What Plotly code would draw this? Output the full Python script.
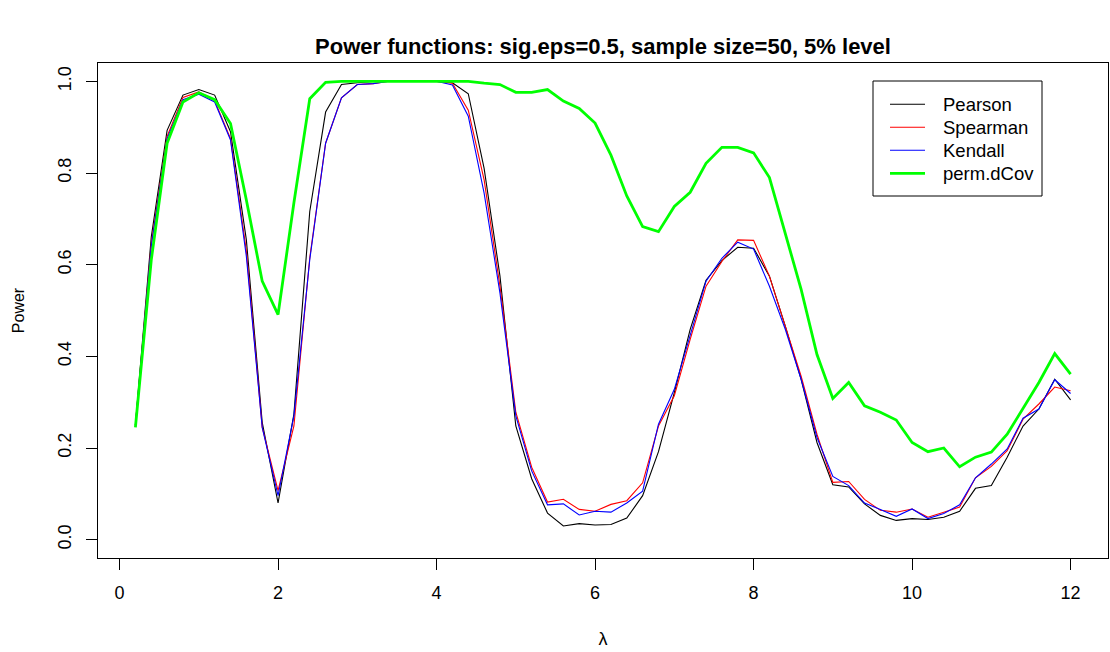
import plotly.graph_objects as go

lam = [0.2, 0.4, 0.6, 0.8, 1.0, 1.2, 1.4, 1.6, 1.8, 2.0,
       2.2, 2.4, 2.6, 2.8, 3.0, 3.2, 3.4, 3.6, 3.8, 4.0,
       4.2, 4.4, 4.6, 4.8, 5.0, 5.2, 5.4, 5.6, 5.8, 6.0,
       6.2, 6.4, 6.6, 6.8, 7.0, 7.2, 7.4, 7.6, 7.8, 8.0,
       8.2, 8.4, 8.6, 8.8, 9.0, 9.2, 9.4, 9.6, 9.8, 10.0,
       10.2, 10.4, 10.6, 10.8, 11.0, 11.2, 11.4, 11.6, 11.8, 12.0]

pearson = [0.250, 0.660, 0.893, 0.970, 0.982, 0.970, 0.890, 0.654, 0.256, 0.080,
           0.274, 0.716, 0.933, 0.993, 0.997, 1.000, 1.000, 1.000, 1.000, 1.000,
           0.997, 0.973, 0.810, 0.575, 0.248, 0.133, 0.058, 0.030, 0.035, 0.032,
           0.033, 0.047, 0.096, 0.192, 0.321, 0.459, 0.566, 0.609, 0.638, 0.636,
           0.575, 0.466, 0.350, 0.212, 0.120, 0.115, 0.078, 0.053, 0.042, 0.046,
           0.044, 0.049, 0.062, 0.112, 0.118, 0.180, 0.248, 0.285, 0.350, 0.305]

spearman = [0.250, 0.645, 0.880, 0.965, 0.977, 0.958, 0.875, 0.630, 0.245, 0.107,
            0.248, 0.615, 0.865, 0.964, 0.993, 0.995, 1.000, 1.000, 1.000, 1.000,
            0.996, 0.937, 0.785, 0.553, 0.278, 0.158, 0.082, 0.088, 0.066, 0.062,
            0.077, 0.085, 0.124, 0.248, 0.314, 0.437, 0.553, 0.607, 0.654, 0.653,
            0.575, 0.466, 0.357, 0.230, 0.125, 0.127, 0.088, 0.064, 0.060, 0.067,
            0.049, 0.060, 0.071, 0.135, 0.160, 0.194, 0.263, 0.296, 0.333, 0.325]

kendall = [0.250, 0.640, 0.875, 0.960, 0.972, 0.955, 0.872, 0.618, 0.245, 0.096,
           0.270, 0.611, 0.865, 0.964, 0.993, 0.995, 1.000, 1.000, 1.000, 1.000,
           0.992, 0.924, 0.756, 0.538, 0.270, 0.150, 0.076, 0.078, 0.054, 0.062,
           0.060, 0.080, 0.106, 0.252, 0.328, 0.444, 0.564, 0.614, 0.649, 0.634,
           0.553, 0.459, 0.350, 0.223, 0.138, 0.118, 0.080, 0.066, 0.051, 0.067,
           0.046, 0.057, 0.076, 0.135, 0.165, 0.198, 0.265, 0.285, 0.349, 0.319]

dcov = [0.245, 0.610, 0.865, 0.955, 0.975, 0.960, 0.908, 0.741, 0.564, 0.491,
        0.735, 0.962, 0.998, 1.000, 1.000, 1.000, 1.000, 1.000, 1.000, 1.000,
        1.000, 1.000, 0.996, 0.993, 0.976, 0.976, 0.982, 0.957, 0.941, 0.909,
        0.839, 0.750, 0.683, 0.672, 0.727, 0.758, 0.821, 0.856, 0.856, 0.844,
        0.790, 0.669, 0.546, 0.404, 0.308, 0.343, 0.292, 0.278, 0.261, 0.212,
        0.192, 0.200, 0.159, 0.180, 0.191, 0.230, 0.285, 0.343, 0.406, 0.361]

series_names = ["Pearson", "Spearman", "Kendall", "perm.dCov"]
series_vals = [pearson, spearman, kendall, dcov]
series_colors = ["#000000", "#FF0000", "#0000FF", "#00FF00"]
series_widths = [1.1, 1.1, 1.1, 2.8]

x_ticks = [0, 2, 4, 6, 8, 10, 12]
y_ticks = [0.0, 0.2, 0.4, 0.6, 0.8, 1.0]
y_tick_text = ["0.0", "0.2", "0.4", "0.6", "0.8", "1.0"]

FONT = "Liberation Sans, Arial, Helvetica, sans-serif"
W, H = 1110, 652
ML, MR, MT, MB = 98, 2, 63, 94
PW, PH = W - ML - MR, H - MT - MB


def px_x(p):
    return (p - ML) / PW


def px_y(p):
    return (H - MB - p) / PH


fig = go.Figure()
for name, vals, col, w in zip(series_names, series_vals, series_colors, series_widths):
    fig.add_trace(go.Scatter(x=lam, y=vals, mode="lines", name=name,
                             line=dict(color=col, width=w), showlegend=False))

# legend drawn in the style of R's legend() box
shapes = [dict(type="rect", xref="paper", yref="paper",
               x0=px_x(873), x1=px_x(1042), y0=px_y(196), y1=px_y(81),
               line=dict(color="black", width=1), fillcolor="white", layer="above")]
annotations = []
row_y = [104.3, 127.3, 150.3, 173.3]
for name, col, w, ry in zip(series_names, series_colors, series_widths, row_y):
    shapes.append(dict(type="line", xref="paper", yref="paper",
                       x0=px_x(890), x1=px_x(925), y0=px_y(ry), y1=px_y(ry),
                       line=dict(color=col, width=w), layer="above"))
    annotations.append(dict(text=name, xref="paper", yref="paper",
                            x=px_x(941), y=px_y(ry), xanchor="left", yanchor="middle",
                            showarrow=False, font=dict(size=18.5, family=FONT, color="black")))

fig.update_layout(
    width=W, height=H,
    margin=dict(l=ML, r=MR, t=MT, b=MB),
    paper_bgcolor="white", plot_bgcolor="white",
    font=dict(family=FONT, size=18, color="black"),
    title=dict(text="<b>Power functions: sig.eps=0.5, sample size=50, 5% level</b>",
               x=603 / W, xanchor="center", y=1 - 46 / H, yanchor="middle",
               yref="container", font=dict(size=22, family=FONT)),
    showlegend=False,
    shapes=shapes,
    annotations=annotations,
)

fig.update_xaxes(range=[-0.272, 12.472], tickvals=x_ticks, ticks="outside", ticklen=11,
                 tickcolor="black", tickwidth=1, showline=True, linecolor="black",
                 linewidth=1, mirror=True, showgrid=False, zeroline=False,
                 ticklabelstandoff=7, tickfont=dict(size=18),
                 title=dict(text="λ", font=dict(size=18), standoff=30))
fig.update_yaxes(range=[-0.04, 1.04], tickvals=y_ticks, ticktext=y_tick_text,
                 ticks="outside", ticklen=11, tickangle=-90,
                 tickcolor="black", tickwidth=1, showline=True, linecolor="black",
                 linewidth=1, mirror=True, showgrid=False, zeroline=False,
                 ticklabelstandoff=8, tickfont=dict(size=18),
                 title=dict(text="Power", font=dict(size=16), standoff=26))

fig.write_html("out.html")
